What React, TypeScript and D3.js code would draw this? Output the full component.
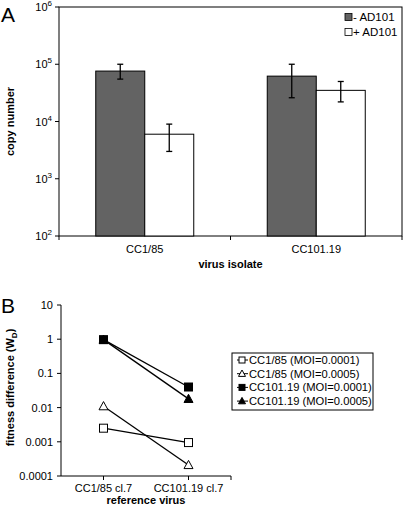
import React from "react";
import * as d3 from "d3";

const isolates = ["CC1/85", "CC101.19"];
const seriesA = ["- AD101", "+ AD101"];
const meanMinus = [76000, 62000];
const errMinusHi = [100000, 100000];
const errMinusLo = [55000, 26000];
const meanPlus = [6000, 35000];
const errPlusHi = [9000, 50000];
const errPlusLo = [3000, 22000];
const yTicksA = [2, 3, 4, 5, 6];

const refViruses = ["CC1/85 cl.7", "CC101.19 cl.7"];
const seriesB = [
  "CC1/85 (MOI=0.0001)",
  "CC1/85 (MOI=0.0005)",
  "CC101.19 (MOI=0.0001)",
  "CC101.19 (MOI=0.0005)",
];
const valsB = [
  [0.0025, 0.00095],
  [0.011, 0.00021],
  [0.97, 0.04],
  [0.97, 0.018],
];
const yTicksB = ["0.0001", "0.001", "0.01", "0.1", "1", "10"];

const FONT = "Liberation Sans, Arial, sans-serif";

function Marker({ i, x, y, s }: { i: number; x: number; y: number; s: number }) {
  const filled = i >= 2;
  const fill = filled ? "#000" : "#fff";
  if (i % 2 === 0) {
    return <rect x={x - s / 2} y={y - s / 2} width={s} height={s} fill={fill} stroke="#000" strokeWidth={1} />;
  }
  const h = s * 0.9;
  return (
    <path
      d={`M${x},${y - h / 2 - 1}L${x + s / 2 + 0.5},${y + h / 2}L${x - s / 2 - 0.5},${y + h / 2}Z`}
      fill={fill}
      stroke="#000"
      strokeWidth={1}
    />
  );
}

export default function App() {
  // Panel A
  const aL = 59, aR = 402, aT = 7, aB = 236;
  const xA = d3.scaleBand().domain(isolates).range([aL, aR]);
  const yA = d3.scaleLog().domain([100, 1e6]).range([aB, aT]);
  const barW = 49;
  const groups = isolates.map((c, i) => ({
    c,
    bars: [
      { v: meanMinus[i], hi: errMinusHi[i], lo: errMinusLo[i], fill: "#636363", off: -barW },
      { v: meanPlus[i], hi: errPlusHi[i], lo: errPlusLo[i], fill: "#fff", off: 0 },
    ],
  }));

  // Panel B
  const bL = 61, bR = 231, bT = 305, bB = 476;
  const xB = d3.scalePoint().domain(refViruses).range([bL, bR]).padding(0.5);
  const yB = d3.scaleLog().domain([0.0001, 10]).range([bB, bT]);

  return (
    <svg
      width={404}
      height={507}
      style={{ position: "absolute", left: 0, top: 0, background: "#fff" }}
      fontFamily={FONT}
    >
      <rect width={404} height={507} fill="#fff" />
      {/* Panel A */}
      <text x={1} y={22} fontSize={21}>A</text>
      <rect x={aL} y={aT} width={aR - aL} height={aB - aT} fill="none" stroke="#000" strokeWidth={1} />
      {yTicksA.map((p) => {
        const y = yA(Math.pow(10, p));
        return (
          <g key={p}>
            <line x1={aL - 4} x2={aL} y1={y} y2={y} stroke="#000" />
            <text x={aL - 7} y={y + 4} fontSize={11} textAnchor="end">
              10<tspan dy={-5} fontSize={8}>{p}</tspan>
            </text>
          </g>
        );
      })}
      {[aL, (aL + aR) / 2, aR].map((x, i) => (
        <line key={i} x1={x} x2={x} y1={aB} y2={aB + 4} stroke="#000" />
      ))}
      {groups.map((g) => {
        const cx = (xA(g.c) as number) + xA.bandwidth() / 2;
        return (
          <g key={g.c}>
            {g.bars.map((b, j) => {
              const x0 = cx + b.off;
              const mid = x0 + barW / 2;
              return (
                <g key={j}>
                  <rect x={x0} y={yA(b.v)} width={barW} height={aB - yA(b.v)} fill={b.fill} stroke="#000" strokeWidth={1} />
                  <line x1={mid} x2={mid} y1={yA(b.hi)} y2={yA(b.lo)} stroke="#000" strokeWidth={1.3} />
                  <line x1={mid - 3} x2={mid + 3} y1={yA(b.hi)} y2={yA(b.hi)} stroke="#000" strokeWidth={1.3} />
                  <line x1={mid - 3} x2={mid + 3} y1={yA(b.lo)} y2={yA(b.lo)} stroke="#000" strokeWidth={1.3} />
                </g>
              );
            })}
            <text x={cx} y={253} fontSize={11} textAnchor="middle">{g.c}</text>
          </g>
        );
      })}
      <text x={(aL + aR) / 2} y={268} fontSize={11} fontWeight="bold" textAnchor="middle">virus isolate</text>
      <text transform={`translate(14,${(aT + aB) / 2}) rotate(-90)`} fontSize={11} fontWeight="bold" textAnchor="middle">copy number</text>
      {seriesA.map((s, i) => (
        <g key={s}>
          <rect x={345} y={13.5 + i * 15} width={7} height={7} fill={i === 0 ? "#636363" : "#fff"} stroke="#000" strokeWidth={0.8} />
          <text x={353} y={21 + i * 15} fontSize={11.5}>{s}</text>
        </g>
      ))}

      {/* Panel B */}
      <text x={1} y={313} fontSize={21}>B</text>
      <line x1={bL} x2={bL} y1={bT} y2={bB} stroke="#000" />
      <line x1={bL} x2={bR} y1={bB} y2={bB} stroke="#000" />
      {yTicksB.map((t) => {
        const y = yB(+t);
        return (
          <g key={t}>
            <line x1={bL - 4} x2={bL} y1={y} y2={y} stroke="#000" />
            <text x={bL - 8} y={y + 4} fontSize={11} textAnchor="end">{t}</text>
          </g>
        );
      })}
      {refViruses.map((r) => (
        <g key={r}>
          <line x1={xB(r)} x2={xB(r)} y1={bB} y2={bB + 4} stroke="#000" />
          <text x={xB(r)} y={492} fontSize={11} textAnchor="middle">{r}</text>
        </g>
      ))}
      <line x1={bR} x2={bR} y1={bB} y2={bB + 4} stroke="#000" />
      <text x={(bL + bR) / 2} y={504} fontSize={11} fontWeight="bold" textAnchor="middle">reference virus</text>
      <text transform={`translate(14,${(bT + bB) / 2 - 3}) rotate(-90)`} fontSize={11} fontWeight="bold" textAnchor="middle">
        fitness difference (W<tspan dy={3} fontSize={8}>D</tspan><tspan dy={-3}>)</tspan>
      </text>
      {valsB.map((vals, i) => {
        const line = d3
          .line<number>()
          .x((_, k) => xB(refViruses[k]) as number)
          .y((v) => yB(v));
        return (
          <g key={i}>
            <path d={line(vals) || ""} fill="none" stroke="#000" strokeWidth={1.3} />
            {vals.map((v, k) => (
              <Marker key={k} i={i} x={xB(refViruses[k]) as number} y={yB(v)} s={8} />
            ))}
          </g>
        );
      })}
      <rect x={232} y={353} width={141} height={57} fill="#fff" stroke="#000" strokeWidth={1} />
      {seriesB.map((s, i) => {
        const y = 360 + i * 13.7;
        return (
          <g key={s}>
            <line x1={237} x2={248} y1={y} y2={y} stroke="#000" />
            <Marker i={i} x={242} y={y} s={6} />
            <text x={249} y={y + 4} fontSize={11.2}>{s}</text>
          </g>
        );
      })}
    </svg>
  );
}
